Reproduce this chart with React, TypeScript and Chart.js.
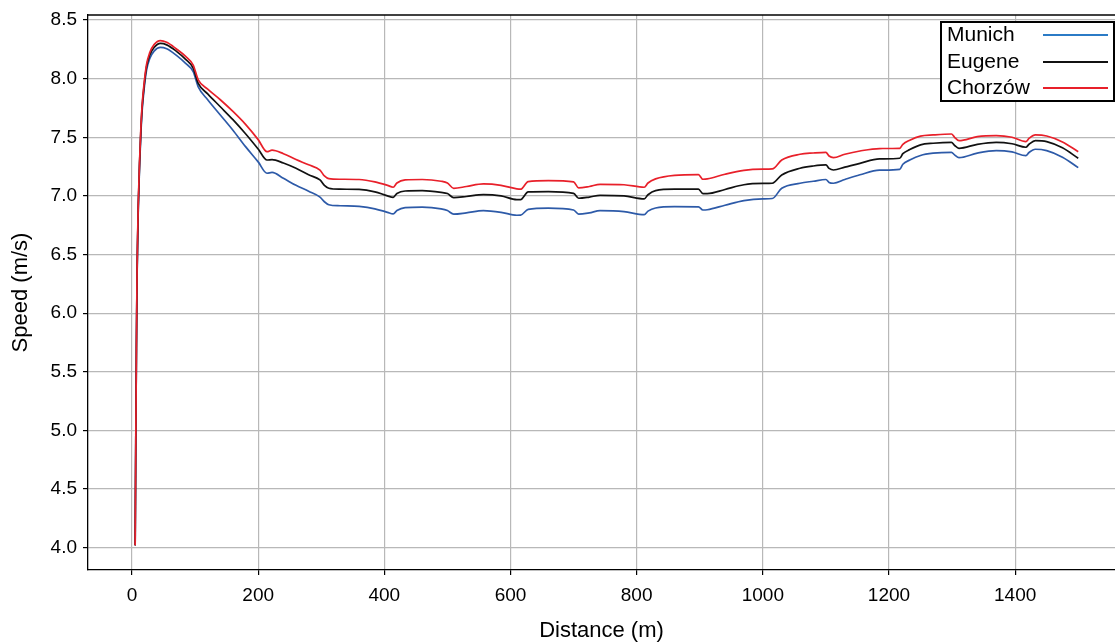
import React, { useEffect, useRef } from "react";
import { Chart, registerables } from "chart.js";

Chart.register(...registerables);

const distance = [
  5, 6, 7, 8, 9, 10, 12, 14, 16, 19, 23, 28, 35, 45, 55, 70, 85, 97, 105, 120,
  140, 160, 180, 200, 214, 222, 240, 260, 280, 298, 305, 312, 330, 360, 385, 405,
  414, 420, 433, 460, 490, 500, 510, 530, 557, 585, 610, 616, 628, 660, 700, 708,
  725, 742, 780, 812, 818, 830, 860, 898, 905, 912, 940, 970, 1000, 1015, 1030,
  1059, 1080, 1100, 1105, 1112, 1130, 1154, 1185, 1217, 1222, 1233, 1250, 1270,
  1299, 1304, 1311, 1340, 1370, 1395, 1417, 1422, 1432, 1450, 1475, 1500,
];

const munich = [
  4.02, 4.9, 5.7, 6.3, 6.62, 6.9, 7.25, 7.52, 7.72, 7.9, 8.07, 8.17, 8.235, 8.267,
  8.255, 8.2, 8.13, 8.06, 7.93, 7.82, 7.69, 7.56, 7.42, 7.29, 7.193, 7.2, 7.15,
  7.09, 7.04, 6.99, 6.95, 6.925, 6.916, 6.91, 6.89, 6.86, 6.846, 6.875, 6.9, 6.905,
  6.89, 6.875, 6.844, 6.855, 6.874, 6.86, 6.835, 6.836, 6.885, 6.895, 6.88, 6.844,
  6.855, 6.874, 6.866, 6.84, 6.87, 6.897, 6.908, 6.907, 6.88, 6.882, 6.92, 6.96,
  6.975, 6.978, 7.065, 7.108, 7.125, 7.14, 7.115, 7.108, 7.14, 7.18, 7.22, 7.227,
  7.27, 7.306, 7.345, 7.364, 7.372, 7.35, 7.326, 7.365, 7.386, 7.375, 7.343, 7.37,
  7.398, 7.386, 7.33, 7.241,
];

const eugene = [
  4.02, 4.9, 5.7, 6.32, 6.65, 6.92, 7.28, 7.55, 7.75, 7.93, 8.1, 8.2, 8.265, 8.3,
  8.288, 8.235, 8.165, 8.09, 7.96, 7.87, 7.76, 7.65, 7.53, 7.4, 7.306, 7.31, 7.28,
  7.235, 7.18, 7.136, 7.09, 7.065, 7.057, 7.055, 7.035, 7.0, 6.988, 7.02, 7.042,
  7.045, 7.03, 7.02, 6.985, 6.995, 7.011, 7.0, 6.968, 6.968, 7.034, 7.037, 7.022,
  6.98, 6.99, 7.005, 7.0, 6.975, 7.01, 7.045, 7.057, 7.057, 7.02, 7.02, 7.055,
  7.095, 7.106, 7.108, 7.179, 7.236, 7.255, 7.264, 7.235, 7.221, 7.245, 7.278,
  7.315, 7.321, 7.36, 7.395, 7.435, 7.449, 7.457, 7.43, 7.406, 7.44, 7.457, 7.445,
  7.415, 7.44, 7.471, 7.463, 7.41, 7.321,
];

const chorzow = [
  4.02, 4.9, 5.72, 6.35, 6.68, 6.95, 7.3, 7.57, 7.77, 7.95, 8.12, 8.22, 8.29, 8.324,
  8.31, 8.255, 8.19, 8.116, 7.99, 7.91, 7.82, 7.72, 7.61, 7.48, 7.377, 7.39, 7.36,
  7.31, 7.265, 7.22, 7.17, 7.147, 7.142, 7.14, 7.12, 7.09, 7.074, 7.11, 7.136, 7.14,
  7.125, 7.11, 7.065, 7.08, 7.102, 7.09, 7.06, 7.057, 7.122, 7.13, 7.119, 7.068,
  7.08, 7.099, 7.095, 7.074, 7.11, 7.145, 7.175, 7.181, 7.142, 7.145, 7.185, 7.218,
  7.228, 7.23, 7.306, 7.355, 7.366, 7.372, 7.34, 7.326, 7.355, 7.383, 7.404, 7.406,
  7.44, 7.475, 7.51, 7.52, 7.528, 7.5, 7.471, 7.505, 7.514, 7.5, 7.463, 7.49, 7.52,
  7.511, 7.46, 7.377,
];

const seriesNames = ["Munich", "Eugene", "Chorzów"];
const lineColors = ["#2d5aa8", "#111111", "#e8202a"];
const legendColors = ["#2b7bc6", "#111111", "#e8202a"];
const xTicks = [0, 200, 400, 600, 800, 1000, 1200, 1400];
const yTicks = [4.0, 4.5, 5.0, 5.5, 6.0, 6.5, 7.0, 7.5, 8.0, 8.5];

const FONT = "'Liberation Sans', Arial, Helvetica, sans-serif";

const legendPlugin = {
  id: "customLegend",
  afterDraw(chart: any) {
    const ctx = chart.ctx;
    const area = chart.chartArea;
    ctx.save();
    // top spine
    ctx.strokeStyle = "#000";
    ctx.lineWidth = 1.3;
    ctx.beginPath();
    ctx.moveTo(area.left, area.top);
    ctx.lineTo(area.right, area.top);
    ctx.stroke();
    // legend box
    const bx = 941, by = 22, bw = 173, bh = 79;
    ctx.fillStyle = "#fff";
    ctx.fillRect(bx, by, bw, bh);
    ctx.lineWidth = 2;
    ctx.strokeStyle = "#000";
    ctx.strokeRect(bx, by, bw, bh);
    ctx.font = `21px ${FONT}`;
    ctx.textBaseline = "middle";
    ctx.textAlign = "left";
    const rows = [35, 62, 88];
    seriesNames.forEach((name, i) => {
      ctx.fillStyle = "#000";
      ctx.fillText(name, 947, rows[i]);
      ctx.strokeStyle = legendColors[i];
      ctx.lineWidth = 2;
      ctx.beginPath();
      ctx.moveTo(1043, rows[i]);
      ctx.lineTo(1108, rows[i]);
      ctx.stroke();
    });
    ctx.restore();
  },
};

export default function App() {
  const ref = useRef<HTMLCanvasElement | null>(null);

  useEffect(() => {
    if (!ref.current) return;
    const all = [munich, eugene, chorzow];
    const chart = new Chart(ref.current, {
      type: "line",
      data: {
        datasets: all.map((vals, i) => ({
          label: seriesNames[i],
          data: vals.map((v, j) => ({ x: distance[j], y: v })),
          borderColor: lineColors[i],
          borderWidth: 1.7,
          pointRadius: 0,
          fill: false,
          cubicInterpolationMode: "monotone" as const,
          order: 2 - i,
        })),
      },
      options: {
        responsive: false,
        animation: false,
        layout: { padding: { top: 15, right: 0, left: 0, bottom: 0 } },
        plugins: {
          legend: { display: false },
          tooltip: { enabled: false },
        },
        scales: {
          x: {
            type: "linear",
            min: -69.75,
            max: 1558.3,
            afterBuildTicks: (s: any) => {
              s.ticks = xTicks.map((v) => ({ value: v }));
            },
            afterFit: (s: any) => {
              s.height = 74;
              s.paddingLeft = 0;
              s.paddingRight = 0;
            },
            grid: {
              color: "#b8b8b8",
              lineWidth: 1.2,
              tickLength: 5,
              tickColor: "#000",
              tickWidth: 1.2,
            },
            border: { color: "#000", width: 1.3 },
            ticks: {
              color: "#000",
              padding: 9,
              maxRotation: 0,
              font: { family: FONT, size: 19 },
              callback: (v: any) => String(v),
            },
            title: {
              display: true,
              text: "Distance (m)",
              color: "#000",
              font: { family: FONT, size: 22 },
              padding: { top: 0, bottom: 0 },
            },
          },
          y: {
            type: "linear",
            min: 3.81,
            max: 8.5426,
            afterBuildTicks: (s: any) => {
              s.ticks = yTicks.map((v) => ({ value: v }));
            },
            afterFit: (s: any) => {
              s.width = 88;
              s.paddingTop = 0;
              s.paddingBottom = 0;
            },
            grid: {
              color: "#b8b8b8",
              lineWidth: 1.2,
              tickLength: 5,
              tickColor: "#000",
              tickWidth: 1.2,
            },
            border: { color: "#000", width: 1.3 },
            ticks: {
              color: "#000",
              padding: 6,
              font: { family: FONT, size: 19 },
              callback: (v: any) => Number(v).toFixed(1),
            },
            title: {
              display: true,
              text: "Speed (m/s)",
              color: "#000",
              font: { family: FONT, size: 22 },
              padding: { top: 8, bottom: 0 },
            },
          },
        },
      },
      plugins: [legendPlugin],
    });
    return () => chart.destroy();
  }, []);

  return (
    <div style={{ position: "absolute", left: 0, top: 0, width: 1115, height: 644, background: "#fff" }}>
      <canvas ref={ref} width={1115} height={644} style={{ display: "block" }} />
    </div>
  );
}
